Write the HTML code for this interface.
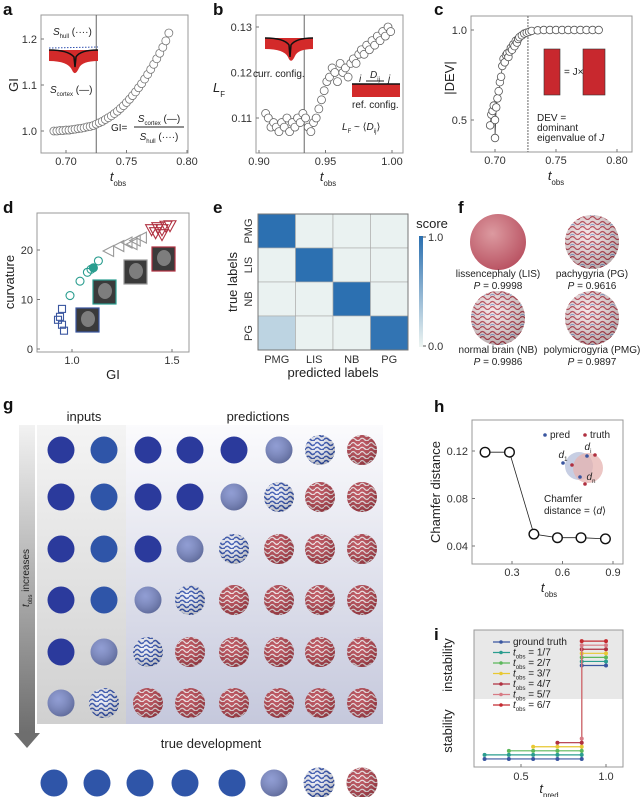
<!DOCTYPE html>
<html><head><meta charset="utf-8">
<style>
html,body{margin:0;padding:0;background:#fff;}
svg{display:block;font-family:"Liberation Sans",sans-serif;}
.tk{font-size:11px;fill:#333;}
.ti{font-size:13px;fill:#222;}
.pl{font-size:17px;font-weight:bold;fill:#111;}
.sm{font-size:10px;fill:#222;}
</style></head>
<body>
<svg id="fig" width="640" height="797" viewBox="0 0 640 797">
<defs>
  <pattern id="sqW" width="9" height="9" patternUnits="userSpaceOnUse"><path d="M0 3 Q2.2 0 4.5 3 T9 3 M0 7.5 Q2.2 5 4.5 7.5 T9 7.5" fill="none" stroke="#2f4fb0" stroke-width="1.6"/></pattern>
  <pattern id="sqR" width="9" height="9" patternUnits="userSpaceOnUse"><path d="M0 3 Q2.2 0 4.5 3 T9 3 M0 7.5 Q2.2 5 4.5 7.5 T9 7.5" fill="none" stroke="#f0e4e6" stroke-width="1.3"/></pattern>
  <pattern id="sqF" width="10" height="10" patternUnits="userSpaceOnUse"><path d="M0 3 Q2.5 0 5 3 T10 3 M0 8 Q2.5 5 5 8 T10 8" fill="none" stroke="#b84050" stroke-width="1.3"/><path d="M0 5.5 Q2.5 3.5 5 5.5" fill="none" stroke="#6a8cc8" stroke-width="0.7"/></pattern>
  <radialGradient id="gShade" cx="0.4" cy="0.35" r="0.7"><stop offset="0" stop-color="#fff" stop-opacity="0.15"/><stop offset="1" stop-color="#000" stop-opacity="0.25"/></radialGradient>
  <radialGradient id="gLis" cx="0.4" cy="0.35" r="0.7"><stop offset="0" stop-color="#dc9aa0"/><stop offset="1" stop-color="#b85060"/></radialGradient>
  <linearGradient id="gBg" x1="0" y1="0" x2="0" y2="1"><stop offset="0" stop-color="#fbfbfd"/><stop offset="1" stop-color="#c5c8dc"/></linearGradient>
  <linearGradient id="gIn" x1="0" y1="0" x2="0" y2="1"><stop offset="0" stop-color="#f4f4f4"/><stop offset="1" stop-color="#d0d0d0"/></linearGradient>
  <linearGradient id="gArr" x1="0" y1="0" x2="0" y2="1"><stop offset="0" stop-color="#f2f2f2"/><stop offset="1" stop-color="#6e6e6e"/></linearGradient>
  <linearGradient id="gCb" x1="0" y1="1" x2="0" y2="0"><stop offset="0" stop-color="#eef5f2"/><stop offset="1" stop-color="#2a6fb0"/></linearGradient>
</defs>

<text class="pl" x="3" y="15">a</text>
<text class="pl" x="213" y="15">b</text>
<text class="pl" x="434" y="15">c</text>
<text class="pl" x="3" y="213">d</text>
<text class="pl" x="213" y="213">e</text>
<text class="pl" x="458" y="213">f</text>
<text class="pl" x="3" y="410">g</text>
<text class="pl" x="434" y="412">h</text>
<text class="pl" x="434" y="640">i</text>

<g id="pa"></g>
<g id="pb"></g>
<g id="pc"></g>
<g id="pd"></g>
<g id="pe"></g>
<g id="pf"></g>
<g id="pg"></g>
<g id="ph"></g>
<g id="pi"></g>
</svg>

<script>
// ---- panel a data
const aT=[0.690,0.6925,0.695,0.6975,0.700,0.7025,0.705,0.7075,0.710,0.7125,0.715,0.7175,0.720,0.7225,0.725,0.7275,0.730,0.7325,0.735,0.7375,0.740,0.7425,0.745,0.7475,0.750,0.7525,0.755,0.7575,0.760,0.7625,0.765,0.7675,0.770,0.7725,0.775,0.7775,0.780,0.7825,0.785];
const aGI=[1.000,1.000,1.001,1.001,1.002,1.002,1.003,1.004,1.005,1.006,1.007,1.009,1.010,1.012,1.015,1.018,1.021,1.025,1.029,1.033,1.038,1.043,1.049,1.055,1.062,1.069,1.077,1.085,1.094,1.103,1.113,1.123,1.134,1.145,1.157,1.169,1.182,1.196,1.213];
const aXTicks=[0.70,0.75,0.80];
const aYTicks=[1.0,1.1,1.2];
// ---- panel b data
const bT=[0.905,0.907,0.909,0.911,0.913,0.915,0.917,0.919,0.921,0.923,0.925,0.927,0.929,0.931,0.933,0.935,0.937,0.939,0.941,0.943,0.945,0.947,0.949,0.951,0.953,0.955,0.957,0.959,0.961,0.963,0.965,0.967,0.969,0.971,0.973,0.975,0.977,0.979,0.981,0.983,0.985,0.987,0.989,0.991,0.993,0.995,0.997,0.999];
const bLF=[0.111,0.110,0.108,0.109,0.108,0.107,0.109,0.108,0.110,0.107,0.109,0.108,0.110,0.109,0.111,0.110,0.108,0.107,0.109,0.110,0.112,0.114,0.116,0.118,0.119,0.121,0.120,0.118,0.122,0.120,0.121,0.119,0.122,0.123,0.122,0.124,0.125,0.124,0.126,0.125,0.127,0.126,0.128,0.127,0.129,0.128,0.130,0.129];
const bXTicks=[0.90,0.95,1.00];
const bYTicks=[0.11,0.12,0.13];
// ---- panel c data
const cT=[0.696,0.697,0.698,0.699,0.700,0.700,0.701,0.702,0.703,0.704,0.705,0.706,0.707,0.708,0.709,0.710,0.711,0.712,0.713,0.714,0.715,0.716,0.717,0.718,0.719,0.720,0.722,0.724,0.726,0.728,0.730,0.735,0.740,0.745,0.750,0.755,0.760,0.765,0.770,0.775,0.780,0.785];
const cDEV=[0.47,0.53,0.55,0.58,0.50,0.40,0.57,0.62,0.66,0.71,0.74,0.80,0.84,0.82,0.86,0.87,0.85,0.88,0.90,0.89,0.92,0.91,0.94,0.93,0.95,0.96,0.97,0.98,0.985,0.99,0.995,0.998,1.0,1.0,1.0,1.0,1.0,1.0,1.0,1.0,1.0,1.0];
const cXTicks=[0.70,0.75,0.80];
const cYTicks=[0.5,1.0];
// ---- panel d data
const dSqGI=[0.93,0.95,0.95,0.96,0.94];
const dSqCurv=[5.9,8.1,4.9,3.7,6.5];
const dCiGI=[0.99,1.04,1.077,1.095,1.107,1.132];
const dCiCurv=[10.8,13.7,15.5,16.1,16.4,17.8];
const dGrGI=[1.183,1.234,1.275,1.316,1.347,1.30];
const dGrCurv=[19.8,20.8,21.5,21.9,22.5,21.2];
const dRdGI=[1.398,1.429,1.45,1.47,1.418,1.45,1.49];
const dRdCurv=[24.1,24.5,24.1,24.8,23.5,23.1,24.9];
const dXTicks=[1.0,1.5];
const dYTicks=[0,10,20];
// ---- panel e data
const eLabels=["PMG","LIS","NB","PG"];
const eScores=[[0.99,0.02,0.02,0.02],[0.02,0.99,0.02,0.02],[0.02,0.02,0.99,0.02],[0.25,0.02,0.02,0.96]];
// ---- panel g data
const gRows=[["d","m","d","d","d","l","w","r"],["d","m","d","d","l","w","r","r"],["d","m","d","l","w","r","r","r"],["d","m","l","w","r","r","r","r"],["d","l","w","r","r","r","r","r"],["l","w","r","r","r","r","r","r"]];
const gTrue=["m","m","m","m","m","l","w","r"];
// ---- panel h data
const hT=[0.14,0.285,0.43,0.57,0.71,0.855];
const hCD=[0.119,0.119,0.050,0.047,0.047,0.046];
const hXTicks=[0.3,0.6,0.9];
const hYTicks=[0.04,0.08,0.12];
// ---- panel i data
const iNames=["ground truth","1/7","2/7","3/7","4/7","5/7","6/7"];
const iStart=[2/7,2/7,3/7,4/7,5/7,6/7,7/7];
const iLow=[0.05,0.10,0.15,0.20,0.25,0.30,0.35];
const iHigh=[1.20,1.25,1.30,1.35,1.40,1.45,1.50];
const iJump=6/7;
const iXTicks=[0.5,1.0];

const NS="http://www.w3.org/2000/svg";
function lin(d0,d1,r0,r1){return v=>r0+(v-d0)*(r1-r0)/(d1-d0);}
function mk(parent,tag,attrs,name,txt){
  const el=document.createElementNS(NS,tag);
  for(const k in attrs) el.setAttribute(k,attrs[k]);
  
  
  if(txt!==undefined) el.textContent=txt;
  parent.appendChild(el);
  return el;
}
function rich(parent,x,y,parts,cls,anchor,name){
  const t=mk(parent,'text',{x:x,y:y,class:cls||'ti','text-anchor':anchor||'start'},name);
  parts.forEach(p=>{const s=document.createElementNS(NS,'tspan');
    if(p.it) s.setAttribute('font-style','italic');
    if(p.sub){s.setAttribute('baseline-shift','sub');s.setAttribute('font-size','0.6em');}
    s.textContent=p.t;t.appendChild(s);});
  return t;
}
function axesBox(g,x0,y0,x1,y1,name){
  mk(g,'rect',{x:x0,y:y0,width:x1-x0,height:y1-y0,fill:'none',stroke:'#999','stroke-width':1},name);
}
function xTicks(g,ticks,sx,yb,fmt,name){
  ticks.forEach(v=>{mk(g,'line',{x1:sx(v),x2:sx(v),y1:yb,y2:yb-3,stroke:'#777'},name+'-tick');
    mk(g,'text',{x:sx(v),y:yb+12,class:'tk','text-anchor':'middle'},name+'-label',fmt(v));});
}
function yTicks(g,ticks,sy,xl,fmt,name){
  ticks.forEach(v=>{mk(g,'line',{x1:xl,x2:xl+3,y1:sy(v),y2:sy(v),stroke:'#777'},name+'-tick');
    mk(g,'text',{x:xl-4,y:sy(v)+4,class:'tk','text-anchor':'end'},name+'-label',fmt(v));});
}
function tobs(g,x,y,sub){rich(g,x,y,[{t:'t',it:1},{t:sub||'obs',sub:1}],'ti','middle','x-axis-title');}

// ===== panel a
(function(){
  const g=document.getElementById('pa');
  const sx=lin(0.70,0.80,66,187), sy=lin(1.0,1.2,131,39);
  axesBox(g,41,15,188,153,'plot-area');
  xTicks(g,aXTicks,sx,153,v=>v.toFixed(2),'x-tick');
  yTicks(g,aYTicks,sy,41,v=>v.toFixed(1),'y-tick');
  mk(g,'line',{x1:sx(0.725),x2:sx(0.725),y1:15,y2:153,stroke:'#666'},'transition-line');
  aT.forEach((t,i)=>mk(g,'circle',{cx:sx(t),cy:sy(aGI[i]),r:4,fill:'#fff',stroke:'#777','stroke-width':0.8},'gi-point'));
  tobs(g,118,181);
  mk(g,'text',{x:18,y:85,class:'ti',transform:'rotate(-90 18 85)','text-anchor':'middle'},'y-axis-title','GI');
  rich(g,53,35,[{t:'S',it:1},{t:'hull',sub:1},{t:' ('},{t:'····'},{t:')'}],'sm','start','s-hull-label');
  mk(g,'path',{d:'M49 50 L98 50 L98 61 Q82 61 79 68 Q75 77 72 70 Q68 61 49 61 Z',fill:'#d32a2a'},'cortex-shape');
  mk(g,'path',{d:'M49 50 Q68 50 74 57 L75 67 L76 57 Q80 50 98 50',fill:'none',stroke:'#111','stroke-width':1.5},'cortex-line');
  mk(g,'line',{x1:49,x2:98,y1:48,y2:47,stroke:'#3050b0','stroke-dasharray':'1.5,1.5'},'hull-line');
  rich(g,50,93,[{t:'S',it:1},{t:'cortex',sub:1},{t:' (—)'}],'sm','start','s-cortex-label');
  mk(g,'text',{x:111,y:131,class:'sm'},'gi-formula','GI=');
  rich(g,159,122,[{t:'S',it:1},{t:'cortex',sub:1},{t:' (—)'}],'sm','middle','formula-numerator');
  mk(g,'line',{x1:134,x2:184,y1:127,y2:127,stroke:'#222'},'fraction-line');
  rich(g,159,140,[{t:'S',it:1},{t:'hull',sub:1},{t:' (····)'}],'sm','middle','formula-denominator');
})();

// ===== panel b
(function(){
  const g=document.getElementById('pb');
  const sx=lin(0.90,1.00,259,392), sy=lin(0.11,0.13,118,27);
  axesBox(g,256,15,403,153,'plot-area');
  xTicks(g,bXTicks,sx,153,v=>v.toFixed(2),'x-tick');
  yTicks(g,bYTicks,sy,256,v=>v.toFixed(2),'y-tick');
  mk(g,'line',{x1:sx(0.934),x2:sx(0.934),y1:15,y2:153,stroke:'#666'},'transition-line');
  bT.forEach((t,i)=>mk(g,'circle',{cx:sx(t),cy:sy(bLF[i]),r:4,fill:'#fff',stroke:'#666','stroke-width':0.8},'lf-point'));
  tobs(g,328,181);
  rich(g,219,92,[{t:'L',it:1},{t:'F',sub:1}],'ti','middle','y-axis-title');
  mk(g,'path',{d:'M265 38 L313 38 L313 49 Q298 49 295 56 Q291 65 288 57 Q284 49 265 49 Z',fill:'#d32a2a'},'curr-config-shape');
  mk(g,'path',{d:'M265 38 Q284 38 289 45 L290 57 L291 45 Q296 38 313 38',fill:'none',stroke:'#111','stroke-width':1.5},'curr-config-line');
  mk(g,'text',{x:253,y:77,class:'sm'},'curr-config-label','curr. config.');
  mk(g,'rect',{x:352,y:84,width:48,height:13,fill:'#d32a2a'},'ref-config-bar');
  mk(g,'line',{x1:352,x2:400,y1:84,y2:84,stroke:'#111','stroke-width':1.5},'ref-config-line');
  mk(g,'line',{x1:366,x2:384,y1:81,y2:81,stroke:'#222'},'dij-arrow');
  rich(g,375,78,[{t:'D',it:1},{t:'ij',sub:1}],'sm','middle','dij-label');
  mk(g,'text',{x:359,y:82,class:'sm','font-style':'italic'},'i-label','i');
  mk(g,'text',{x:388,y:82,class:'sm','font-style':'italic'},'j-label','j');
  mk(g,'text',{x:352,y:108,class:'sm'},'ref-config-label','ref. config.');
  rich(g,342,130,[{t:'L',it:1},{t:'F',sub:1},{t:' ~ ⟨'},{t:'D',it:1},{t:'ij',sub:1},{t:'⟩'}],'sm','start','lf-formula');
})();

// ===== panel c
(function(){
  const g=document.getElementById('pc');
  const sx=lin(0.70,0.80,495,617), sy=lin(0.5,1.0,120,30);
  axesBox(g,471,16,632,152,'plot-area');
  xTicks(g,cXTicks,sx,152,v=>v.toFixed(2),'x-tick');
  yTicks(g,cYTicks,sy,471,v=>v.toFixed(1),'y-tick');
  mk(g,'line',{x1:sx(0.727),x2:sx(0.727),y1:16,y2:152,stroke:'#666','stroke-dasharray':'2,1'},'transition-line');
  mk(g,'polyline',{points:cT.map((t,i)=>sx(t)+','+sy(cDEV[i])).join(' '),fill:'none',stroke:'#333','stroke-width':0.7},'dev-line');
  cT.forEach((t,i)=>mk(g,'circle',{cx:sx(t),cy:sy(cDEV[i]),r:3.8,fill:'#fff',stroke:'#555','stroke-width':0.8},'dev-point'));
  tobs(g,556,180);
  mk(g,'text',{x:454,y:78,class:'ti',transform:'rotate(-90 454 78)','text-anchor':'middle'},'y-axis-title','|DEV|');
  mk(g,'rect',{x:544,y:49,width:16,height:46,fill:'#c8282e',stroke:'#333','stroke-width':0.6},'vector-left');
  mk(g,'rect',{x:583,y:49,width:22,height:46,fill:'#c8282e',stroke:'#333','stroke-width':0.6},'vector-right');
  mk(g,'text',{x:564,y:75,class:'sm','font-size':'7'},'jacobian-eq','= J×');
  mk(g,'text',{x:537,y:121,class:'sm','font-size':'11'},'dev-def-1','DEV =');
  mk(g,'text',{x:537,y:131,class:'sm','font-size':'11'},'dev-def-2','dominant');
  rich(g,537,141,[{t:'eigenvalue of '},{t:'J',it:1}],'sm','start','dev-def-3').setAttribute('font-size','11');
})();

// ===== panel d
(function(){
  const g=document.getElementById('pd');
  const sx=lin(1.0,1.5,72,172), sy=lin(0,20,349,250);
  axesBox(g,37,213,189,352,'plot-area');
  xTicks(g,dXTicks,sx,352,v=>v.toFixed(1),'x-tick');
  yTicks(g,dYTicks,sy,37,v=>v,'y-tick');
  mk(g,'text',{x:113,y:379,class:'ti','text-anchor':'middle'},'x-axis-title','GI');
  mk(g,'text',{x:14,y:282,class:'ti',transform:'rotate(-90 14 282)','text-anchor':'middle'},'y-axis-title','curvature');
  [[76,308,'#3a56a0'],[93,280,'#2a9d8f'],[124,260,'#999'],[152,247,'#b03040']].forEach(b=>{
    mk(g,'rect',{x:b[0],y:b[1],width:23,height:24,fill:'#3a3a3a',stroke:b[2],'stroke-width':1.2},'mri-thumbnail');
    mk(g,'ellipse',{cx:b[0]+12,cy:b[1]+11,rx:7,ry:8,fill:'#9a9a9a',opacity:0.7},'mri-brain');
  });
  dSqGI.forEach((v,i)=>mk(g,'rect',{x:sx(v)-3.5,y:sy(dSqCurv[i])-3.5,width:7,height:7,fill:'none',stroke:'#3a56a0','stroke-width':1.1},'lis-point'));
  dCiGI.forEach((v,i)=>mk(g,'circle',{cx:sx(v),cy:sy(dCiCurv[i]),r:4,fill:i==4?'#2a9d8f':'none',stroke:'#2a9d8f','stroke-width':1.1},'pg-point'));
  dGrGI.forEach((v,i)=>{const x=sx(v),y=sy(dGrCurv[i]);mk(g,'polygon',{points:`${x-5.5},${y} ${x+5},${y-5.5} ${x+5},${y+5.5}`,fill:'none',stroke:'#999','stroke-width':1.1},'nb-point');});
  dRdGI.forEach((v,i)=>{const x=sx(v),y=sy(dRdCurv[i]);mk(g,'polygon',{points:`${x-6},${y-5} ${x+6},${y-5} ${x},${y+6}`,fill:'none',stroke:'#b03040','stroke-width':1.1},'pmg-point');});
})();

// ===== panel e
(function(){
  const g=document.getElementById('pe');
  const x0=258,y0=214,w=150,h=136,cw=w/4,ch=h/4;
  const col=v=>{const a=[238,245,242],b=[42,111,176];return 'rgb('+a.map((c,k)=>Math.round(c+(b[k]-c)*v)).join(',')+')';};
  eScores.forEach((row,r)=>row.forEach((v,c)=>mk(g,'rect',{x:x0+c*cw,y:y0+r*ch,width:cw,height:ch,fill:col(v),stroke:'#aaa','stroke-width':0.6},'heat-cell')));
  mk(g,'rect',{x:x0,y:y0,width:w,height:h,fill:'none',stroke:'#777'},'heatmap-border');
  eLabels.forEach((l,i)=>{
    mk(g,'text',{x:x0+i*cw+cw/2,y:363,class:'tk','text-anchor':'middle'},'x-tick-label',l);
    const yy=y0+i*ch+ch/2;
    mk(g,'text',{x:252,y:yy,class:'tk','text-anchor':'middle',transform:`rotate(-90 252 ${yy})`},'y-tick-label',l);
  });
  mk(g,'text',{x:333,y:377,class:'ti','text-anchor':'middle'},'x-axis-title','predicted labels');
  mk(g,'text',{x:237,y:282,class:'ti','text-anchor':'middle',transform:'rotate(-90 237 282)'},'y-axis-title','true labels');
  mk(g,'rect',{x:419,y:236,width:4,height:111,fill:'url(#gCb)'},'colorbar');
  mk(g,'text',{x:432,y:228,class:'ti','text-anchor':'middle'},'colorbar-title','score');
  mk(g,'line',{x1:423,x2:426,y1:237,y2:237,stroke:'#555'},'colorbar-tick');
  mk(g,'line',{x1:423,x2:426,y1:346,y2:346,stroke:'#555'},'colorbar-tick');
  mk(g,'text',{x:428,y:241,class:'tk'},'colorbar-max','1.0');
  mk(g,'text',{x:428,y:350,class:'tk'},'colorbar-min','0.0');
})();

// ===== panel f
(function(){
  const g=document.getElementById('pf');
  const items=[[498,242,'lissencephaly (LIS)','0.9998',true],[592,242,'pachygyria (PG)','0.9616',false],[498,318,'normal brain (NB)','0.9986',false],[592,318,'polymicrogyria (PMG)','0.9897',false]];
  items.forEach(s=>{
    if(s[4]){mk(g,'circle',{cx:s[0],cy:s[1],r:28,fill:'url(#gLis)'},'brain-sphere');}
    else{mk(g,'circle',{cx:s[0],cy:s[1],r:27,fill:'#f2e0e2'},'brain-sphere');
      mk(g,'circle',{cx:s[0],cy:s[1],r:27,fill:'url(#sqF)'},'brain-folds');
      mk(g,'circle',{cx:s[0],cy:s[1],r:27,fill:'url(#gShade)'},'brain-shade');}
    const ly=s[1]+35;
    mk(g,'text',{x:s[0],y:ly,class:'sm','text-anchor':'middle'},'brain-label',s[2]);
    rich(g,s[0],ly+12,[{t:'P',it:1},{t:' = '+s[3]}],'sm','middle','probability-label');
  });
})();

// ===== panel g
(function(){
  const g=document.getElementById('pg');
  mk(g,'rect',{x:37,y:425,width:346,height:299,fill:'url(#gBg)'},'prediction-background');
  mk(g,'rect',{x:37,y:425,width:89,height:299,fill:'url(#gIn)'},'inputs-background');
  mk(g,'rect',{x:19,y:425,width:16,height:308,fill:'url(#gArr)'},'time-arrow-shaft');
  mk(g,'polygon',{points:'14,733 40,733 27,748',fill:'#6e6e6e'},'time-arrow-head');
  rich(g,0,0,[{t:'t',it:1},{t:'obs',sub:1},{t:' increases'}],'sm','middle','time-arrow-label').setAttribute('transform','translate(29 578) rotate(-90)');
  mk(g,'text',{x:84,y:421,class:'ti','text-anchor':'middle'},'inputs-title','inputs');
  mk(g,'text',{x:258,y:421,class:'ti','text-anchor':'middle'},'predictions-title','predictions');
  mk(g,'text',{x:211,y:748,class:'ti','text-anchor':'middle'},'true-development-title','true development');
  const colX=[61,104,148,190,234,279,320,362], rowY=[450,497,549,600,652,703];
  const trueX=[54,97,140,185,232,274,319,362];
  function sphere(cx,cy,r,t){
    const base={d:'#2b3a9c',m:'#2f55a8',l:'#7d8ccc',w:'#eef0fa',r:'#b8424e'}[t];
    mk(g,'circle',{cx:cx,cy:cy,r:r,fill:base},'sphere');
    if(t==='w') mk(g,'circle',{cx:cx,cy:cy,r:r,fill:'url(#sqW)'},'sphere-pattern');
    if(t==='r') mk(g,'circle',{cx:cx,cy:cy,r:r,fill:'url(#sqR)'},'sphere-pattern');
    if(t!=='d'&&t!=='m') mk(g,'circle',{cx:cx,cy:cy,r:r,fill:'url(#gShade)'},'sphere-shade');
  }
  gRows.forEach((row,ri)=>row.forEach((t,ci)=>sphere(colX[ci],rowY[ri],t==='r'||t==='w'?15:13.5,t)));
  gTrue.forEach((t,ci)=>sphere(trueX[ci],783,t==='r'||t==='w'?15.5:13.5,t));
})();

// ===== panel h
(function(){
  const g=document.getElementById('ph');
  const sx=lin(0.3,0.9,512,613), sy=lin(0.04,0.12,546,451);
  axesBox(g,472,420,623,564,'plot-area');
  xTicks(g,hXTicks,sx,564,v=>v.toFixed(1),'x-tick');
  yTicks(g,hYTicks,sy,472,v=>v.toFixed(2),'y-tick');
  mk(g,'polyline',{points:hT.map((t,i)=>sx(t)+','+sy(hCD[i])).join(' '),fill:'none',stroke:'#222','stroke-width':0.8},'chamfer-line');
  hT.forEach((t,i)=>mk(g,'circle',{cx:sx(t),cy:sy(hCD[i]),r:4.8,fill:'#fff',stroke:'#111','stroke-width':1.4},'chamfer-point'));
  tobs(g,549,592);
  mk(g,'text',{x:440,y:492,class:'ti','text-anchor':'middle',transform:'rotate(-90 440 492)'},'y-axis-title','Chamfer distance');
  mk(g,'circle',{cx:579,cy:466,r:14,fill:'#b9c2dc',opacity:0.8},'pred-region');
  mk(g,'circle',{cx:588,cy:468,r:15,fill:'#e6b3b0',opacity:0.75},'truth-region');
  mk(g,'circle',{cx:545,cy:435,r:1.8,fill:'#3a56a0'},'pred-legend-dot');
  mk(g,'text',{x:550,y:438,class:'sm'},'pred-legend-label','pred');
  mk(g,'circle',{cx:585,cy:435,r:1.8,fill:'#b03040'},'truth-legend-dot');
  mk(g,'text',{x:590,y:438,class:'sm'},'truth-legend-label','truth');
  [[563,463,'#3a56a0'],[572,465,'#b03040'],[587,456,'#3a56a0'],[595,455,'#b03040'],[580,477,'#3a56a0'],[585,484,'#b03040']].forEach(p=>mk(g,'circle',{cx:p[0],cy:p[1],r:1.8,fill:p[2]},'point-dot'));
  rich(g,563,458,[{t:'d',it:1},{t:'1',sub:1}],'sm','middle','d1-label');
  rich(g,588,450,[{t:'d',it:1},{t:'i',sub:1}],'sm','middle','di-label');
  rich(g,591,480,[{t:'d',it:1},{t:'n',sub:1}],'sm','middle','dn-label');
  mk(g,'text',{x:544,y:502,class:'sm'},'chamfer-def-1','Chamfer');
  rich(g,544,514,[{t:'distance = ⟨'},{t:'d',it:1},{t:'⟩'}],'sm','start','chamfer-def-2');
})();

// ===== panel i
(function(){
  const g=document.getElementById('pi');
  const sx=lin(0.5,1.0,521,606), sy=lin(0,1.6,763,633);
  mk(g,'rect',{x:474,y:630,width:149,height:69,fill:'#e8e8e8'},'instability-region');
  axesBox(g,474,630,623,767,'plot-area');
  iXTicks.forEach(v=>{mk(g,'line',{x1:sx(v),x2:sx(v),y1:767,y2:764,stroke:'#777'},'x-tick');
    mk(g,'text',{x:sx(v),y:780,class:'tk','text-anchor':'middle'},'x-tick-label',v.toFixed(1));});
  rich(g,549,793,[{t:'t',it:1},{t:'pred',sub:1}],'ti','middle','x-axis-title');
  mk(g,'text',{x:452,y:665,class:'ti','text-anchor':'middle',transform:'rotate(-90 452 665)'},'instability-label','instability');
  mk(g,'text',{x:452,y:731,class:'ti','text-anchor':'middle',transform:'rotate(-90 452 731)'},'stability-label','stability');
  const cols=['#3a56a0','#2a9d8f','#5cb85c','#e8c832','#b03040','#d77a84','#c42a30'];
  const steps=[2/7,3/7,4/7,5/7,6/7];
  iNames.forEach((n,k)=>{
    const lo=sy(iLow[k]),hi=sy(iHigh[k]);
    const pts=[];
    steps.forEach(t=>{if(t>=iStart[k]-1e-6) pts.push([sx(t),lo]);});
    pts.push([sx(iJump),hi]);
    pts.push([sx(1.0),hi]);
    mk(g,'polyline',{points:pts.map(p=>p.join(',')).join(' '),fill:'none',stroke:cols[k],'stroke-width':1.2},'series-line');
    pts.forEach(p=>mk(g,'circle',{cx:p[0],cy:p[1],r:2,fill:cols[k]},'series-marker'));
    const ly=642+k*10.5;
    mk(g,'line',{x1:493,x2:510,y1:ly,y2:ly,stroke:cols[k],'stroke-width':1.2},'legend-line');
    mk(g,'circle',{cx:501,cy:ly,r:1.8,fill:cols[k]},'legend-marker');
    if(k===0) mk(g,'text',{x:513,y:ly+3,class:'sm','font-size':'9'},'legend-label',n);
    else rich(g,513,ly+3,[{t:'t',it:1},{t:'obs',sub:1},{t:' = '+n}],'sm','start','legend-label').setAttribute('font-size','9');
  });
})();
</script>
</body></html>
